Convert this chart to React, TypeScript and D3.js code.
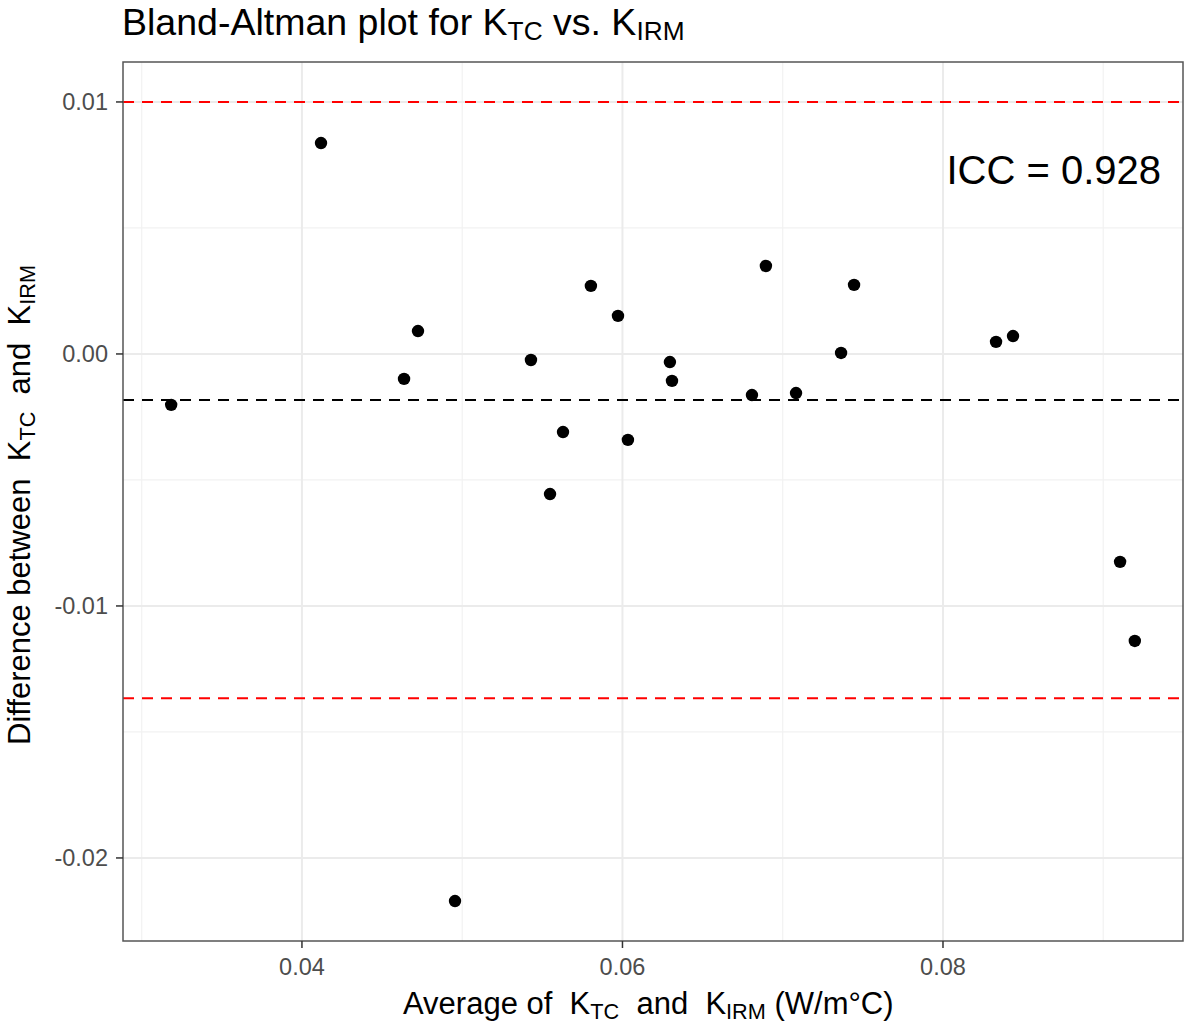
import React from "react";
import * as d3 from "d3";

const avgValues = [0.03184, 0.04119, 0.04637, 0.04724, 0.04955, 0.05429, 0.05548, 0.05629, 0.05803, 0.05972, 0.06034, 0.06296, 0.06309, 0.06808, 0.06895, 0.07083, 0.07364, 0.07445, 0.08331, 0.08437, 0.09105, 0.09197];
const diffValues = [-0.00202, 0.00837, -0.00099, 0.00091, -0.02171, -0.00024, -0.00556, -0.0031, 0.0027, 0.00151, -0.00341, -0.00032, -0.00107, -0.00163, 0.00349, -0.00155, 0.00004, 0.00274, 0.00048, 0.00071, -0.00825, -0.01139];
const meanDiff = -0.00183;
const upperLoA = 0.0100;
const lowerLoA = -0.01366;
const xTicks = [0.04, 0.06, 0.08];
const xMinor = [0.03, 0.05, 0.07, 0.09];
const yTicks = [0.01, 0.0, -0.01, -0.02];
const yMinor = [0.005, -0.005, -0.015];
const iccLabel = "ICC = 0.928";

const W = 1184;
const H = 1023;
const left = 123;
const right = 1183;
const top = 62;
const bottom = 941;
const FONT = "'Liberation Sans', Arial, Helvetica, sans-serif";

export default function App() {
  const xExt = d3.extent(avgValues) as [number, number];
  const yExt = d3.extent([...diffValues, upperLoA, lowerLoA]) as [number, number];
  const xPad = (xExt[1] - xExt[0]) * 0.05;
  const yPad = (yExt[1] - yExt[0]) * 0.05;
  const x = d3.scaleLinear().domain([xExt[0] - xPad, xExt[1] + xPad]).range([left, right]);
  const y = d3.scaleLinear().domain([yExt[0] - yPad, yExt[1] + yPad]).range([bottom, top]);
  const fmtX = d3.format(".2f");
  const fmtY = (v: number) => (Math.abs(v) < 1e-12 ? "0.00" : v.toFixed(2));

  const pre = { whiteSpace: "pre" as const };
  const titleF = 37.5;
  const axisF = 31;
  const subT = titleF * 0.7;
  const subA = axisF * 0.7;
  const dT = 5;
  const dA = 5;

  return (
    <svg width={W} height={H} style={{ position: "absolute", left: 0, top: 0, background: "#fff" }} fontFamily={FONT}>
      <rect x={0} y={0} width={W} height={H} fill="#fff" />
      {xMinor.map((v) => (
        <line key={"xm" + v} x1={x(v)} x2={x(v)} y1={top} y2={bottom} stroke="#f2f2f2" strokeWidth={1.2} />
      ))}
      {yMinor.map((v) => (
        <line key={"ym" + v} x1={left} x2={right} y1={y(v)} y2={y(v)} stroke="#f2f2f2" strokeWidth={1.2} />
      ))}
      {xTicks.map((v) => (
        <line key={"xg" + v} x1={x(v)} x2={x(v)} y1={top} y2={bottom} stroke="#ebebeb" strokeWidth={2} />
      ))}
      {yTicks.map((v) => (
        <line key={"yg" + v} x1={left} x2={right} y1={y(v)} y2={y(v)} stroke="#ebebeb" strokeWidth={2} />
      ))}
      <line x1={left} x2={right} y1={y(upperLoA)} y2={y(upperLoA)} stroke="#ff0000" strokeWidth={2} strokeDasharray="11 8" />
      <line x1={left} x2={right} y1={y(lowerLoA)} y2={y(lowerLoA)} stroke="#ff0000" strokeWidth={2} strokeDasharray="11 8" />
      <line x1={left} x2={right} y1={y(meanDiff)} y2={y(meanDiff)} stroke="#000" strokeWidth={2} strokeDasharray="11 8" />
      {avgValues.map((v, i) => (
        <circle key={i} cx={x(v)} cy={y(diffValues[i])} r={6.2} fill="#000" />
      ))}
      <text x={1161} y={184} textAnchor="end" fontSize={40} fill="#000">{iccLabel}</text>
      <rect x={left} y={top} width={right - left} height={bottom - top} fill="none" stroke="#555" strokeWidth={1.5} />
      {xTicks.map((v) => (
        <g key={"xt" + v}>
          <line x1={x(v)} x2={x(v)} y1={bottom} y2={bottom + 7} stroke="#333" strokeWidth={1.5} />
          <text x={x(v)} y={975} textAnchor="middle" fontSize={23.5} fill="#4d4d4d">{fmtX(v)}</text>
        </g>
      ))}
      {yTicks.map((v) => (
        <g key={"yt" + v}>
          <line x1={left - 7} x2={left} y1={y(v)} y2={y(v)} stroke="#333" strokeWidth={1.5} />
          <text x={left - 15} y={y(v) + 8.5} textAnchor="end" fontSize={23.5} fill="#4d4d4d">{fmtY(v)}</text>
        </g>
      ))}
      <text x={122} y={35} fontSize={titleF} fill="#000" style={pre}>
        {"Bland-Altman plot for K"}<tspan fontSize={subT} dy={dT}>TC</tspan><tspan dy={-dT}>{" vs. K"}</tspan><tspan fontSize={subT} dy={dT}>IRM</tspan>
      </text>
      <text x={403} y={1014} fontSize={axisF} fill="#000" style={pre}>
        {"Average of  K"}<tspan fontSize={subA} dy={dA}>TC</tspan><tspan dy={-dA}>{"  and  K"}</tspan><tspan fontSize={subA} dy={dA}>IRM</tspan><tspan dy={-dA}>{" (W/m°C)"}</tspan>
      </text>
      <text transform={`translate(30, 745) rotate(-90)`} fontSize={axisF} fill="#000" style={pre}>
        {"Difference between  K"}<tspan fontSize={subA} dy={dA}>TC</tspan><tspan dy={-dA}>{"  and  K"}</tspan><tspan fontSize={subA} dy={dA}>IRM</tspan>
      </text>
    </svg>
  );
}
